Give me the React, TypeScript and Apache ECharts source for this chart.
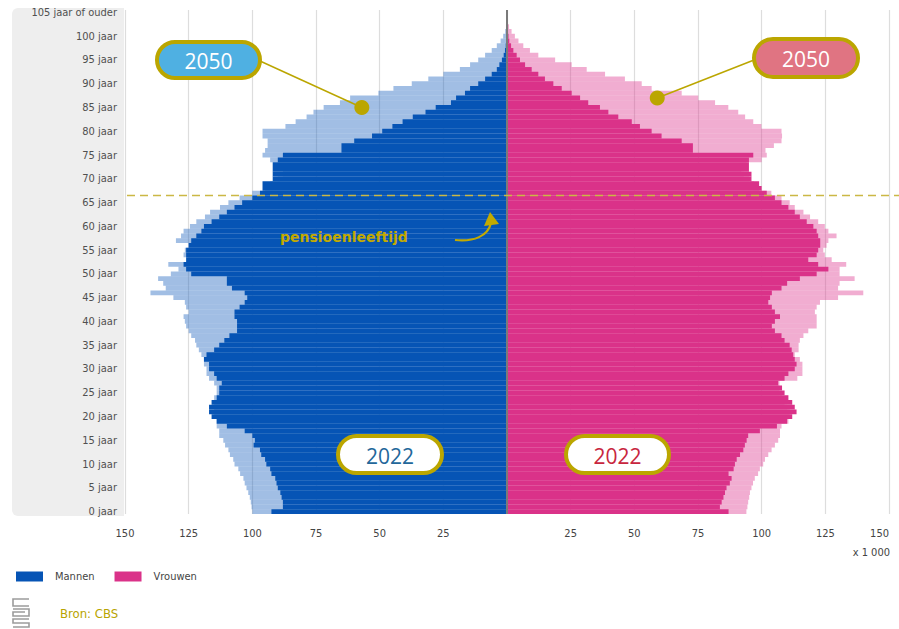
import React, { useEffect, useRef } from 'react';
import * as echarts from 'echarts';

// Age categories 0 .. 105+
const AGES: number[] = Array.from({ length: 106 }, (_, i) => i);
const AGE_LABELS: string[] = AGES.map((a) => (a === 105 ? '105 jaar of ouder' : `${a} jaar`));

// x 1 000 — index = age
const MEN_2022 = [
  92.5, 88, 88, 88.5, 89, 90, 90.5, 91, 92.5, 93,
  94.5, 95, 96.5, 97, 99.5, 99, 100, 103, 110, 114,
  116, 117, 117, 116, 114, 113, 113, 112, 114, 115,
  117, 117, 119, 118, 115, 113, 111, 109, 106, 106,
  106, 107, 107, 105, 103, 102, 103, 108, 110, 110,
  124, 126, 127, 126, 126, 126, 125, 124, 122, 120,
  119, 116, 113, 110, 107, 104, 100, 97, 96, 96,
  92, 92, 92, 92, 90, 88, 65, 65, 60, 53,
  49, 45, 41, 37, 32, 28, 22, 20, 16.5, 14.5,
  11.3, 8.6, 6, 4, 3, 2, 1.3, 0.8, 0.5, 0.3,
  0.2, 0.1, 0.1, 0.05, 0.05, 0.05,
];
const MEN_2050 = [
  100, 100.3, 100.6, 101, 101.6, 102.3, 103, 103.5, 104.8, 105.5,
  107, 107.5, 108.8, 109.4, 110.7, 111.4, 113, 113, 114, 114,
  115, 115, 115, 115, 115, 114, 114, 115, 117, 118,
  118, 119, 119, 120, 121, 122, 122.5, 124, 125, 126,
  126.5, 127, 125, 126, 126.5, 131, 140, 134, 135, 137,
  132, 129, 133, 125, 127, 126.5, 125, 130, 128, 127,
  124.5, 122, 118.6, 116.6, 112.7, 109.4, 105, 100, 95, 93,
  90, 88, 88, 90, 93, 96, 95, 94, 94, 96,
  96, 87, 83, 78.7, 76, 72, 65.6, 61.6, 50.5, 44.6,
  37.4, 30.9, 25, 18.5, 14.5, 11.3, 8.6, 6, 4, 2.5,
  1.5, 0.7, 0.4, 0.2, 0.1, 0.2,
];
const WOMEN_2022 = [
  87, 83.6, 84.3, 85, 85.6, 86.2, 87.5, 88.2, 87, 89,
  89.5, 90.2, 91.5, 92.8, 93.4, 94.1, 94.7, 99.3, 106, 110,
  112, 113.7, 113, 112, 110.5, 109, 108, 106.5, 109, 110.5,
  113, 113.7, 113, 112.4, 111.8, 111, 109, 107.8, 105.2, 104,
  105.2, 107.2, 105.2, 104, 102.6, 103.3, 104, 107.8, 110, 115,
  121.6, 126.2, 122.2, 118.3, 121.6, 122.2, 123, 123, 122.2, 121.6,
  120.3, 117.7, 115, 113, 110.5, 107.8, 105.2, 102, 100, 99,
  96, 96, 95, 95, 95, 96.7, 73, 73, 68.6, 60.7,
  56.8, 52.2, 49, 43.7, 39.8, 36.5, 31.9, 28.7, 25.4, 21.5,
  18.2, 14.9, 12.3, 9.7, 7.1, 5.1, 3.8, 2.5, 1.6, 0.9,
  0.6, 0.4, 0.2, 0.1, 0.1, 0.1,
];
const WOMEN_2050 = [
  94, 94.4, 94.7, 95.1, 95.4, 96, 96.6, 97.3, 98.6, 99.3,
  100.6, 101.3, 102.6, 103.9, 105.2, 106.5, 107.2, 107.2, 107.8, 110.5,
  111, 111, 110, 109, 108, 107, 107, 107, 114, 116,
  116, 116, 115, 113, 114.5, 114.5, 115, 116.4, 118.3, 121.6,
  121.6, 121.6, 120.9, 121.6, 122.9, 130, 139.9, 130, 130.6, 136.5,
  130.6, 130.6, 133.2, 127.5, 124.8, 124.2, 125.5, 126.2, 129.4, 126.2,
  124.8, 122.2, 119, 116.4, 113, 111, 107.8, 103.8, 99, 97,
  95, 93, 92, 94, 100, 102, 101.5, 104.8, 107.8, 108,
  107.8, 99.9, 96.7, 93.5, 90.8, 86.9, 81.7, 75.1, 68.6, 56.8,
  52.9, 46.3, 38.5, 31.3, 25.4, 18.9, 12.3, 9, 6.4, 4.5,
  3.1, 1.8, 0.8, 0.4, 0.2, 0.3,
];

// annotation anchors [value x1000 (men negative), age]
const DOT_2050_MEN: [number, number] = [-57, 85];
const DOT_2050_WOMEN: [number, number] = [59, 87];
const PENSION_AGES: [number, number] = [66, 67];

const GOLD = '#bba600';
const BLUE = '#0654b5';
const PINK = '#da3289';
const BLUE_LIGHT = 'rgba(30,100,190,0.42)';
const PINK_LIGHT = 'rgba(222,60,145,0.42)';
const COND = "'Liberation Sans Narrow','DejaVu Sans Condensed','Roboto Condensed',Roboto,sans-serif";

export default function App() {
  const ref = useRef<HTMLDivElement>(null);

  useEffect(() => {
    const chart = echarts.init(ref.current!, null, { renderer: 'svg' });
    const neg = (a: number[]) => a.map((v) => -v);

    chart.setOption({
      animation: false,
      textStyle: { fontFamily: COND },
      grid: { left: 125, right: 10, top: 10, bottom: 115, containLabel: false },
      legend: {
        data: ['Mannen', 'Vrouwen'],
        left: 11,
        top: 566,
        icon: 'rect',
        itemWidth: 27,
        itemHeight: 10,
        itemGap: 20,
        textStyle: { color: '#444', fontSize: 11, fontFamily: COND, padding: [0, 0, 0, 7] },
        selectedMode: false,
      },
      xAxis: {
        type: 'value',
        min: -150,
        max: 150,
        interval: 25,
        axisLine: { show: false },
        axisTick: { show: false },
        splitLine: { show: true, lineStyle: { color: '#dddddd', width: 1.2 } },
        axisLabel: {
          color: '#444',
          fontSize: 11,
          margin: 14,
          fontFamily: COND,
          alignMaxLabel: 'right',
          formatter: (v: number) => (v === 0 ? '' : String(Math.abs(v))),
        },
      },
      yAxis: {
        type: 'category',
        data: AGE_LABELS,
        axisLine: { show: false },
        axisTick: { show: false },
        splitLine: { show: false },
        axisLabel: {
          interval: (i: number) => i % 5 === 0,
          color: '#505050',
          fontSize: 11,
          margin: 8,
          fontFamily: COND,
        },
      },
      series: [
        {
          name: 'Mannen 2050',
          type: 'bar',
          data: neg(MEN_2050),
          barGap: '-100%',
          barCategoryGap: '0%',
          itemStyle: { color: BLUE_LIGHT },
          silent: true,
        },
        {
          name: 'Vrouwen 2050',
          type: 'bar',
          data: WOMEN_2050,
          barGap: '-100%',
          barCategoryGap: '0%',
          itemStyle: { color: PINK_LIGHT },
          silent: true,
        },
        {
          name: 'Mannen',
          type: 'bar',
          data: neg(MEN_2022),
          barGap: '-100%',
          barCategoryGap: '0%',
          itemStyle: { color: BLUE },
          silent: true,
        },
        {
          name: 'Vrouwen',
          type: 'bar',
          data: WOMEN_2022,
          barGap: '-100%',
          barCategoryGap: '0%',
          itemStyle: { color: PINK },
          silent: true,
          markLine: {
            silent: true,
            symbol: 'none',
            label: { show: false },
            lineStyle: { color: '#7a7a7a', width: 2, type: 'solid' },
            data: [{ xAxis: 0 }],
          },
        },
        {
          name: 'dots',
          type: 'scatter',
          data: [DOT_2050_MEN, DOT_2050_WOMEN],
          symbolSize: 15,
          itemStyle: { color: GOLD, opacity: 1 },
          z: 10,
          silent: true,
        },
      ],
    });

    const px = (x: number, y: number) => chart.convertToPixel({ gridIndex: 0 }, [x, y]) as number[];
    const yA = px(0, PENSION_AGES[0])[1];
    const yB = px(0, PENSION_AGES[1])[1];
    const dashY = (yA + yB) / 2;
    const dL = px(DOT_2050_MEN[0], DOT_2050_MEN[1]);
    const dR = px(DOT_2050_WOMEN[0], DOT_2050_WOMEN[1]);

    const pill = (id: string, x: number, y: number, w: number, h: number, fill: string, text: string, color: string) => ({
      type: 'group',
      id,
      z: 100,
      children: [
        {
          type: 'rect',
          shape: { x, y, width: w, height: h, r: h / 2 },
          style: { fill, stroke: GOLD, lineWidth: 4 },
          z: 100,
        },
        {
          type: 'text',
          x: x + w / 2,
          y: y + h / 2 + 1,
          style: {
            text,
            fill: color,
            font: "400 21px 'Open Sans', 'Liberation Sans', sans-serif",
            textAlign: 'center',
            textVerticalAlign: 'middle',
          },
          z: 101,
        },
      ],
    });

    chart.setOption({
      graphic: [
        {
          type: 'rect',
          id: 'panel',
          z: -10,
          shape: { x: 12, y: 8, width: 112, height: 508, r: [6, 0, 0, 6] },
          style: { fill: '#eeeeee' },
        },
        {
          type: 'line',
          id: 'pension',
          z: 50,
          shape: { x1: 127, y1: dashY, x2: 899, y2: dashY },
          style: { stroke: '#cbb845', lineWidth: 1.5, lineDash: [8, 5] },
        },
        {
          type: 'line',
          id: 'leadL',
          z: 60,
          shape: { x1: 260, y1: 61, x2: dL[0], y2: dL[1] },
          style: { stroke: GOLD, lineWidth: 1.5 },
        },
        {
          type: 'line',
          id: 'leadR',
          z: 60,
          shape: { x1: 754, y1: 60, x2: dR[0], y2: dR[1] },
          style: { stroke: GOLD, lineWidth: 1.5 },
        },
        pill('p2050L', 157, 42, 103, 36, '#4fb0e2', '2050', '#ffffff'),
        pill('p2050R', 754, 39, 104, 38, '#e07482', '2050', '#ffffff'),
        pill('p2022L', 338, 436, 104, 37, '#ffffff', '2022', '#23679a'),
        pill('p2022R', 566, 436, 103, 37, '#ffffff', '2022', '#c8263e'),
        {
          type: 'text',
          id: 'pensionText',
          z: 100,
          x: 280,
          y: 237,
          style: {
            text: 'pensioenleeftijd',
            fill: '#c3aa00',
            font: "700 14px 'DejaVu Sans', sans-serif",
            textAlign: 'left',
            textVerticalAlign: 'middle',
          },
        },
        {
          type: 'bezierCurve',
          id: 'arrowShaft',
          z: 100,
          shape: { x1: 455, y1: 240, cpx1: 474, cpy1: 242, cpx2: 488, cpy2: 236, x2: 491, y2: 223 },
          style: { stroke: '#c3aa00', lineWidth: 2.2, fill: null },
        },
        {
          type: 'polygon',
          id: 'arrowHead',
          z: 100,
          shape: { points: [[490, 212], [484, 226], [499, 224]] },
          style: { fill: '#c3aa00' },
        },
        {
          type: 'text',
          id: 'unit',
          x: 890,
          y: 552,
          style: { text: 'x 1 000', fill: '#444', font: `11px ${COND}`, textAlign: 'right', textVerticalAlign: 'middle' },
        },
        {
          type: 'text',
          id: 'bron',
          x: 60,
          y: 613,
          style: { text: 'Bron: CBS', fill: '#b8a400', font: `13px ${COND}`, textAlign: 'left', textVerticalAlign: 'middle' },
        },
        {
          type: 'group',
          id: 'logo',
          children: [
            { type: 'polyline', shape: { points: [[29, 599], [13, 599], [13, 606], [29, 606]] }, style: { stroke: '#9c9c9c', lineWidth: 1.6, fill: null } },
            { type: 'polyline', shape: { points: [[13, 609], [29, 609], [29, 616], [13, 616], [13, 612], [25, 612]] }, style: { stroke: '#9c9c9c', lineWidth: 1.6, fill: null } },
            { type: 'polyline', shape: { points: [[29, 619], [13, 619], [13, 623], [29, 623], [29, 627], [13, 627]] }, style: { stroke: '#9c9c9c', lineWidth: 1.6, fill: null } },
          ],
        },
      ],
    });

    return () => chart.dispose();
  }, []);

  return <div ref={ref} style={{ position: 'absolute', left: 0, top: 0, width: 899, height: 629 }} />;
}
